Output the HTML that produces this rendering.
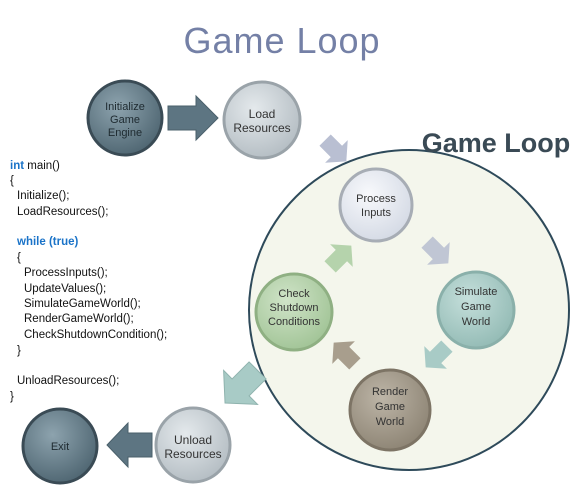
<!DOCTYPE html>
<html><head><style>
body{margin:0;background:#fff;width:584px;height:489px;overflow:hidden}
svg text{font-family:"Liberation Sans",sans-serif}
</style></head><body>
<svg width="584" height="489" viewBox="0 0 584 489" xmlns="http://www.w3.org/2000/svg">
<defs>
<radialGradient id="gd" cx="40%" cy="35%" r="70%"><stop offset="0" stop-color="#8da3ae"/><stop offset="1" stop-color="#4d6470"/></radialGradient>
<radialGradient id="gl" cx="40%" cy="35%" r="70%"><stop offset="0" stop-color="#e4e9ec"/><stop offset="1" stop-color="#b3bcc2"/></radialGradient>
<radialGradient id="gp" cx="40%" cy="35%" r="70%"><stop offset="0" stop-color="#f8f9fc"/><stop offset="1" stop-color="#d3d9e4"/></radialGradient>
<radialGradient id="gs" cx="40%" cy="35%" r="70%"><stop offset="0" stop-color="#c5dfdb"/><stop offset="1" stop-color="#92bab4"/></radialGradient>
<radialGradient id="gr" cx="40%" cy="35%" r="70%"><stop offset="0" stop-color="#bdb5a7"/><stop offset="1" stop-color="#8c8373"/></radialGradient>
<radialGradient id="gc" cx="40%" cy="35%" r="70%"><stop offset="0" stop-color="#d0e4c8"/><stop offset="1" stop-color="#a0c395"/></radialGradient>
</defs>
<text x="282" y="53" text-anchor="middle" font-size="36" fill="#7480a6" style="letter-spacing:1px">Game Loop</text>
<circle cx="409" cy="310" r="160" fill="#f4f6ec" stroke="#2e4a5a" stroke-width="2"/>
<text x="496" y="152" text-anchor="middle" font-size="27" font-weight="bold" fill="#3a4a55">Game Loop</text>
<!-- arrows -->
<polygon points="168,106 196,106 196,96 218,118 196,140 196,130 168,130" fill="#5d7582" stroke="#4a606b"/>
<polygon points="152,433 128,433 128,423 107,445 128,467 128,457 152,457" fill="#5d7582" stroke="#4a606b"/>
<g transform="translate(335,150) rotate(45)"><polygon points="-14,-8 2,-8 2,-16 16,0 2,16 2,8 -14,8" fill="#b9bfd2"/></g>
<g transform="translate(437,252) rotate(45)"><polygon points="-14,-8 2,-8 2,-16 16,0 2,16 2,8 -14,8" fill="#c0c6d4"/></g>
<g transform="translate(437,356) rotate(135)"><polygon points="-14,-8 2,-8 2,-16 16,0 2,16 2,8 -14,8" fill="#a8cbc6"/></g>
<g transform="translate(345,354) rotate(-135)"><polygon points="-14,-8 2,-8 2,-16 16,0 2,16 2,8 -14,8" fill="#a89e8d"/></g>
<g transform="translate(340,257) rotate(-45)"><polygon points="-14,-8 2,-8 2,-16 16,0 2,16 2,8 -14,8" fill="#b5d3ac"/></g>
<g transform="translate(242,386) rotate(135)"><polygon points="-22,-12 2,-12 2,-24 24,0 2,24 2,12 -22,12" fill="#a8cbc6" stroke="#8fb3ae"/></g>
<!-- nodes -->
<g font-size="11" text-anchor="middle" fill="#333">
<circle cx="125" cy="118" r="37" fill="url(#gd)" stroke="#3a4b55" stroke-width="3"/>
<text x="125" y="110" fill="#1e2a30">Initialize</text><text x="125" y="123" fill="#1e2a30">Game</text><text x="125" y="136" fill="#1e2a30">Engine</text>
<circle cx="262" cy="120" r="38" fill="url(#gl)" stroke="#9aa3a9" stroke-width="3"/>
<text x="262" y="118" font-size="12">Load</text><text x="262" y="132" font-size="12">Resources</text>
<circle cx="376" cy="205" r="36" fill="url(#gp)" stroke="#a7adb5" stroke-width="3"/>
<text x="376" y="202">Process</text><text x="376" y="216">Inputs</text>
<circle cx="476" cy="310" r="38" fill="url(#gs)" stroke="#8ab0aa" stroke-width="3"/>
<text x="476" y="295">Simulate</text><text x="476" y="310">Game</text><text x="476" y="325">World</text>
<circle cx="390" cy="410" r="40" fill="url(#gr)" stroke="#7d7465" stroke-width="3"/>
<text x="390" y="395">Render</text><text x="390" y="410">Game</text><text x="390" y="425">World</text>
<circle cx="294" cy="312" r="38" fill="url(#gc)" stroke="#8fb083" stroke-width="3"/>
<text x="294" y="297">Check</text><text x="294" y="311">Shutdown</text><text x="294" y="325">Conditions</text>
<circle cx="193" cy="445" r="37" fill="url(#gl)" stroke="#9aa3a9" stroke-width="3"/>
<text x="193" y="444" font-size="12">Unload</text><text x="193" y="458" font-size="12">Resources</text>
<circle cx="60" cy="446" r="37" fill="url(#gd)" stroke="#3a4b55" stroke-width="3"/>
<text x="60" y="450" fill="#1e2a30">Exit</text>
</g>
<g font-size="11.5" fill="#111">
<text x="10" y="169"><tspan fill="#1a73c8" font-weight="bold">int</tspan> main()</text>
<text x="10" y="184">{</text>
<text x="17" y="199">Initialize();</text>
<text x="17" y="215">LoadResources();</text>
<text x="17" y="245" fill="#1a73c8" font-weight="bold">while (true)</text>
<text x="17" y="261">{</text>
<text x="24" y="276">ProcessInputs();</text>
<text x="24" y="292">UpdateValues();</text>
<text x="24" y="307">SimulateGameWorld();</text>
<text x="24" y="322">RenderGameWorld();</text>
<text x="24" y="338">CheckShutdownCondition();</text>
<text x="17" y="354">}</text>
<text x="17" y="384">UnloadResources();</text>
<text x="10" y="400">}</text>
</g>
</svg>
</body></html>
